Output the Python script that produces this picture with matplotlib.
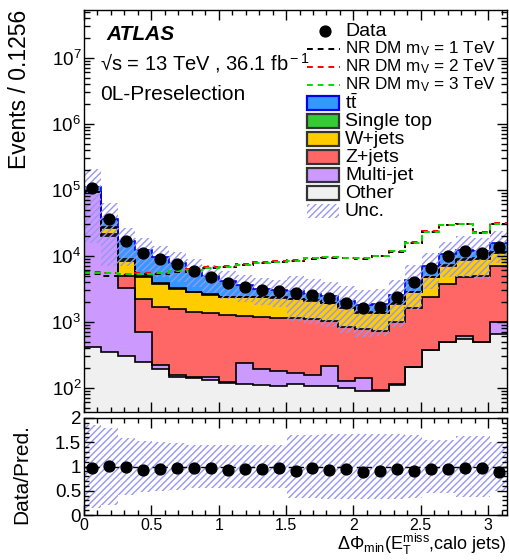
import numpy as np
import matplotlib
matplotlib.use("Agg")
import matplotlib.pyplot as plt
from matplotlib.ticker import LogLocator, MultipleLocator, NullFormatter, LogFormatterMathtext, FuncFormatter
from matplotlib.patches import Rectangle
from matplotlib.lines import Line2D

plt.rcParams["font.family"] = ["Liberation Sans", "DejaVu Sans"]
plt.rcParams["mathtext.fontset"] = "custom"
plt.rcParams["mathtext.rm"] = "Liberation Sans"
plt.rcParams["mathtext.it"] = "Liberation Sans:italic"
plt.rcParams["mathtext.bf"] = "Liberation Sans:bold"
plt.rcParams["hatch.linewidth"] = 1.0

# binning: 25 bins of 0.1256 in dphi_min
bin_width = 0.1256
n_bins = 25
edges = np.arange(n_bins + 1) * bin_width

# background components (events per bin)
other = [420, 350, 305, 242, 192, 147, 140, 131, 116, 113, 110, 107, 113,
         107, 107, 100, 90, 90, 110, 203, 373, 486, 546, 486, 650]
multijet = [91580, 19650, 2935, 447, 31, 10, 5, 16, 4, 120, 82, 70, 52,
            50, 108, 28, 50, 3, 3, 3, 3, 3, 68, 3, 330]
zjets = [800, 1500, 1740, 1520, 1467, 1403, 1285, 1193, 1140, 997, 998, 983, 995,
         943, 815, 712, 635, 638, 864, 1404, 2014, 3231, 4186, 4491, 6070]
wjets = [600, 5000, 3500, 2600, 2040, 1570, 1350, 1200, 1080, 1110, 1150, 1130, 1020,
         980, 870, 770, 605, 609, 873, 1170, 2310, 3330, 3800, 3920, 4150]
singletop = [300, 700, 420, 200, 170, 90, 70, 60, 55, 50, 50, 50, 50,
             45, 45, 40, 35, 35, 45, 80, 130, 200, 250, 250, 300]
ttbar = [16300, 8300, 7940, 7160, 5570, 4590, 3300, 2400, 1700, 1216, 790, 660, 726,
         542, 485, 414, 394, 503, 648, 1481, 2170, 3276, 3546, 2517, 4068]

data = [106000, 36000, 16500, 11200, 8900, 7500, 5900, 4800, 3810, 3390, 3020, 2880, 2690,
        2560, 2260, 1940, 1610, 1690, 2390, 3950, 6650, 10000, 11900, 11200, 13700]

# relative uncertainty of the prediction
unc = [0.86, 0.80, 0.58, 0.52, 0.50, 0.48, 0.45, 0.45, 0.45, 0.44, 0.44, 0.45, 0.65,
       0.65, 0.66, 0.67, 0.68, 0.68, 0.67, 0.65, 0.55, 0.55, 0.62, 0.62, 0.50]

# signal lines
nr_1tev = [5300, 5000, 5200, 5300, 5300, 5700, 6100, 6500, 6700, 7200, 7700, 8000, 8300,
           9000, 9300, 9200, 9000, 9900, 11500, 15500, 22800, 28800, 30000, 22000, 30000]
nr_2tev = [5600, 5500, 5300, 5400, 5500, 5900, 6300, 6700, 7000, 7400, 8000, 8200, 8500,
           9300, 9600, 9400, 9300, 10100, 11800, 16000, 23500, 29800, 30800, 22800, 31000]
nr_3tev = [5500, 5400, 5300, 5300, 5400, 5800, 6200, 6600, 6800, 7200, 7900, 8100, 8400,
           9200, 9500, 9400, 9200, 10000, 11700, 15900, 23300, 29500, 30500, 22500, 30500]

stack = [
    (other, "#f0f0f0", "k"),
    (multijet, "#cc99ff", "k"),
    (zjets, "#ff6666", "k"),
    (wjets, "#ffcc00", "k"),
    (singletop, "#33cc33", "k"),
    (ttbar, "#3399ff", "#0000ee"),
]
hatch_col = "#9696f5"
hatch = "/////"

fig = plt.figure(figsize=(5.1, 5.6), dpi=100)
ax = fig.add_axes([84 / 510, 1 - 412 / 560, 423 / 510, 402 / 560])
rax = fig.add_axes([84 / 510, 1 - 515 / 560, 423 / 510, 97 / 560])

# stacked histogram
bottom = np.ones(n_bins)
for vals, col, ecol in stack:
    top = bottom + np.array(vals, dtype=float)
    ax.stairs(top, edges, baseline=bottom, fill=True, color=col, lw=0)
    bottom = top
bottom = np.ones(n_bins)
for vals, col, ecol in stack:
    top = bottom + np.array(vals, dtype=float)
    ax.stairs(top, edges, baseline=None, color=ecol, lw=1.2)
    bottom = top
pred = bottom - 1.0
unc = np.array(unc)

ax.stairs(pred * (1 + unc), edges, baseline=pred * (1 - unc), fill=True,
          facecolor="none", edgecolor=hatch_col, hatch=hatch, lw=0)

for vals, col in [(nr_1tev, "k"), (nr_2tev, "#ff0000"), (nr_3tev, "#00dd00")]:
    ax.stairs(vals, edges, baseline=None, color=col, lw=1.4, ls=(0, (3, 2.5)))

centers = 0.5 * (edges[:-1] + edges[1:])
data = np.array(data, dtype=float)
ax.plot(centers, data, "o", color="k", ms=7.8, zorder=10)

ax.set_yscale("log")
ax.set_xlim(0, n_bins * bin_width)
ax.set_ylim(43, 5.3e7)
ax.yaxis.set_major_locator(LogLocator(base=10, numticks=20))
ax.yaxis.set_minor_locator(LogLocator(base=10, subs=np.arange(2, 10), numticks=100))
ax.yaxis.set_major_formatter(LogFormatterMathtext())
ax.yaxis.set_minor_formatter(NullFormatter())
ax.xaxis.set_major_locator(MultipleLocator(0.5))
ax.xaxis.set_minor_locator(MultipleLocator(0.1))
ax.set_xticklabels([])
ax.set_ylabel("Events / 0.1256", fontsize=16.5, loc="top")
ax.yaxis.set_label_coords(-0.125, 1.0)

# ratio panel
ratio = data / pred
rax.stairs(1 + unc, edges, baseline=1 - unc, fill=True,
           facecolor="none", edgecolor=hatch_col, hatch=hatch, lw=0)
rax.axhline(1.0, color="k", lw=1, ls=(0, (4, 3)))
rax.plot(centers, ratio, "o", color="k", ms=7.8, zorder=10)
rax.set_xlim(0, n_bins * bin_width)
rax.set_ylim(0, 2)
rax.yaxis.set_major_locator(MultipleLocator(0.5))
rax.yaxis.set_minor_locator(MultipleLocator(0.1))
rax.yaxis.set_major_formatter(FuncFormatter(lambda v, p: "%g" % v))
rax.xaxis.set_major_locator(MultipleLocator(0.5))
rax.xaxis.set_minor_locator(MultipleLocator(0.1))
rax.xaxis.set_major_formatter(FuncFormatter(lambda v, p: "%g" % v))
rax.set_ylabel("Data/Pred.", fontsize=15)
rax.yaxis.set_label_coords(-0.125, 0.42)
rax.set_xlabel(r"$\Delta\Phi_{\rm min}(\mathrm{E}_{\rm T}^{\rm miss}$,calo jets)", fontsize=13, loc="right")
rax.xaxis.set_label_coords(1.0, -0.17)

for a in (ax, rax):
    a.tick_params(which="both", direction="in", top=True, right=True, width=1)
    a.tick_params(which="major", length=7)
    a.tick_params(which="minor", length=3.5)
    a.tick_params(axis="y", labelsize=13.5, pad=2)
    for s in a.spines.values():
        s.set_linewidth(1)
rax.tick_params(axis="x", labelsize=11.5, pad=2)
ax.tick_params(axis="y", which="minor", length=4.5)

# labels
fig.text(106 / 510, 1 - 35 / 560, "ATLAS", fontsize=15, weight="bold", style="italic", va="center")
fig.text(100 / 510, 1 - 63 / 560, "\u221as = 13 TeV , 36.1 fb$^{\\rm -1}$", fontsize=14.5, va="center")
fig.text(100 / 510, 1 - 94 / 560, "0L-Preselection", fontsize=15, va="center")

# legend, drawn entry by entry
legend_entries = [
    ("data", "Data", "k"),
    ("line", r"NR DM m$_{\rm V}$ = 1 TeV", "k"),
    ("line", r"NR DM m$_{\rm V}$ = 2 TeV", "#ff0000"),
    ("line", r"NR DM m$_{\rm V}$ = 3 TeV", "#00dd00"),
    ("box", r"$\mathrm{t\bar{t}}$", stack[5]),
    ("box", "Single top", stack[4]),
    ("box", "W+jets", stack[3]),
    ("box", "Z+jets", stack[2]),
    ("box", "Multi-jet", stack[1]),
    ("box", "Other", stack[0]),
    ("hatch", "Unc.", hatch_col),
]
for i, (kind, label, style) in enumerate(legend_entries):
    py = 31 + 18.0 * i
    y = 1 - py / 560
    size = 14
    if kind == "data":
        fig.add_artist(Line2D([325 / 510], [y], marker="o", ms=7.8, color="k",
                              transform=fig.transFigure))
    elif kind == "line":
        size = 12.3
        fig.add_artist(Line2D([307 / 510, 340 / 510], [y, y], color=style, lw=1.4,
                              ls=(0, (3, 2.5)), transform=fig.transFigure))
    elif kind == "box":
        ecol = "#0000ee" if style[2] != "k" else "#333333"
        fig.add_artist(Rectangle((307 / 510, y - 6.5 / 560), 32 / 510, 13 / 560,
                                 facecolor=style[1], edgecolor=ecol, lw=1.6,
                                 transform=fig.transFigure))
    else:
        fig.add_artist(Rectangle((307 / 510, y - 6.5 / 560), 32 / 510, 13 / 560,
                                 facecolor="none", edgecolor=style, hatch=hatch, lw=0,
                                 transform=fig.transFigure))
    fig.text(345 / 510, y, label, fontsize=size, va="center")

fig.savefig("out.png", dpi=100)
